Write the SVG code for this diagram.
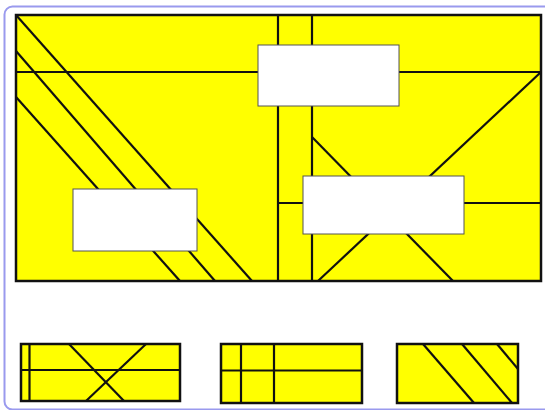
<svg xmlns="http://www.w3.org/2000/svg" width="545" height="410" viewBox="0 0 545 410">
<style>
.frame{fill:#ffffff;stroke:#9a9aee;stroke-width:2}
.panel{fill:#ffff00;stroke:#111111;stroke-width:2.5}
.ln{stroke:#111111;stroke-width:2.2;fill:none}
.box{fill:#ffffff;stroke:#555555;stroke-width:1}
</style>
<rect class="frame" x="4.5" y="6.5" width="560" height="403" rx="8"/>
<g id="main">
<rect class="panel" x="16" y="15" width="525" height="266"/>
<g id="lines">
<line class="ln" x1="16" y1="72" x2="541" y2="72"/>
<line class="ln" x1="278" y1="15" x2="278" y2="281"/>
<line class="ln" x1="312" y1="15" x2="312" y2="281"/>
<line class="ln" x1="278" y1="203" x2="541" y2="203"/>
<line class="ln" x1="16" y1="15" x2="252" y2="281"/>
<line class="ln" x1="16" y1="51" x2="215" y2="281"/>
<line class="ln" x1="16" y1="97" x2="180" y2="281"/>
<line class="ln" x1="312" y1="137" x2="453" y2="281"/>
<line class="ln" x1="541" y1="72" x2="318" y2="281"/>
</g>
<rect id="box1" class="box" x="258" y="45" width="141" height="61"/>
<rect id="box2" class="box" x="303" y="176" width="161" height="58"/>
<rect id="box3" class="box" x="73" y="189" width="124" height="62"/>
</g>
<g id="swatchA">
<rect class="panel" x="21" y="344" width="159" height="57"/>
<line class="ln" x1="29.5" y1="344" x2="29.5" y2="401"/>
<line class="ln" x1="21" y1="370" x2="180" y2="370"/>
<line class="ln" x1="69" y1="344" x2="124" y2="401"/>
<line class="ln" x1="146" y1="344" x2="86" y2="401"/>
</g>
<g id="swatchB">
<rect class="panel" x="221" y="344" width="141" height="59"/>
<line class="ln" x1="241" y1="344" x2="241" y2="403"/>
<line class="ln" x1="274" y1="344" x2="274" y2="403"/>
<line class="ln" x1="221" y1="370.5" x2="362" y2="370.5"/>
</g>
<g id="swatchC">
<rect class="panel" x="397" y="344" width="121" height="59"/>
<line class="ln" x1="423" y1="344" x2="474" y2="403"/>
<line class="ln" x1="462" y1="344" x2="512" y2="403"/>
<line class="ln" x1="497" y1="344" x2="518" y2="369"/>
</g>
</svg>
